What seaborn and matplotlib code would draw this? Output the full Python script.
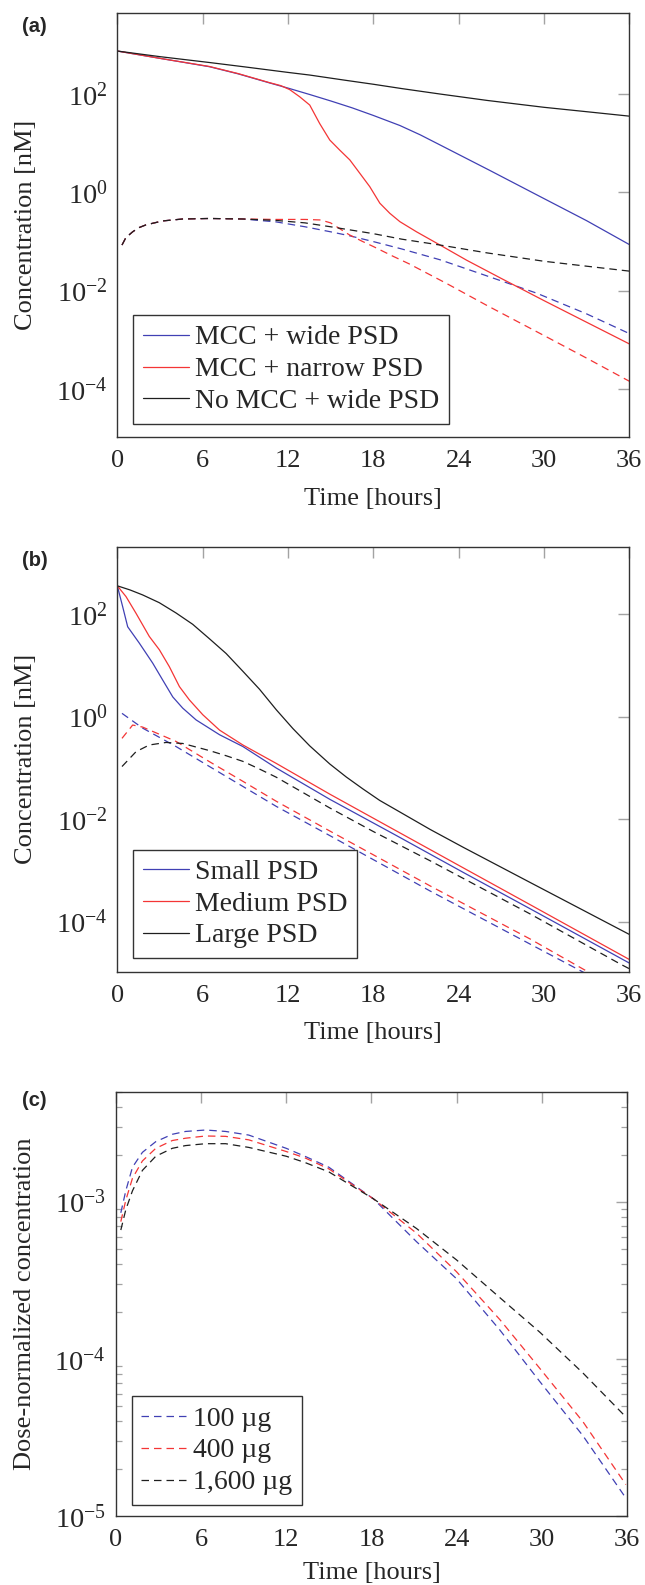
import matplotlib
matplotlib.use("Agg")
import matplotlib.pyplot as plt
import numpy as np
import pandas as pd
import seaborn as sns
from matplotlib.lines import Line2D
from matplotlib.ticker import FixedLocator, NullLocator, LogLocator, NullFormatter, LogFormatterSciNotation

# ---------------- data ----------------
# Panel (a)
a_t_nomcc = [0, 3, 6.48, 9, 12, 13.53, 16, 18, 20, 22.69, 26, 30, 33, 36]
a_nomcc_solid = [748, 575, 437, 355, 275, 243, 191, 158, 129, 100, 74.1, 53.7, 43.7, 35.5]
a_t_wide = [0, 3, 6.48, 8.5, 10.71, 12.12, 13.53, 15, 16.5, 18, 19.87, 21.3, 22.69, 26.2, 29.73, 33, 36]
a_wide_solid = [748, 531, 359, 257, 168, 129, 97.7, 72.4, 52.5, 36.7, 22.9, 14.8, 9.23, 2.79, 0.822,
                0.266, 0.0871]
a_t_narrow = [0, 3, 6.48, 8.5, 10.71, 11.5, 12.12, 12.82, 13.53, 14.23, 14.94, 15.64, 16.35, 17.05,
              17.75, 18.46, 19.16, 19.87, 21.04, 22.69, 24.57, 27, 30, 33, 36]
a_narrow_solid = [748, 531, 363, 260, 170, 148, 123, 88.1, 59.7, 25.1, 11.6, 7.24, 4.57, 2.45, 1.31,
                  0.603, 0.376, 0.254, 0.158, 0.0851, 0.0417, 0.0178, 0.00631, 0.00229, 0.000832]
a_t_wide_dash = [0.33, 0.6, 1.08, 1.5, 2.02, 3.19, 4.6, 6.48, 8.83, 11.18, 13.2, 15, 16.3, 18, 20,
                 22.69, 26, 29.5, 33, 36]
a_wide_dashed = [0.0851, 0.120, 0.158, 0.191, 0.219, 0.263, 0.288, 0.295, 0.288, 0.251, 0.200, 0.158,
                 0.132, 0.100, 0.0708, 0.0427, 0.0200, 0.00891, 0.00339, 0.00135]
a_t_narrow_dash = [0.33, 0.6, 1.08, 1.5, 2.02, 3.19, 4.6, 6.48, 8.83, 11.18, 13.2, 14.3, 15, 16.3,
                   17.2, 18, 19.4, 20.5, 23.15, 26, 30.4, 33, 36]
a_narrow_dashed = [0.0851, 0.120, 0.158, 0.191, 0.219, 0.263, 0.288, 0.295, 0.288, 0.282, 0.282,
                   0.275, 0.240, 0.138, 0.102, 0.0794, 0.0501, 0.0355, 0.0141, 0.00501, 0.00107,
                   0.000427, 0.000145]
a_t_nomcc_dash = [0.33, 0.6, 1.08, 1.5, 2.02, 3.19, 4.6, 6.48, 8.83, 11.18, 13.2, 15, 18, 20, 22.69,
                  26, 30, 33, 36]
a_nomcc_dashed = [0.0851, 0.120, 0.158, 0.191, 0.219, 0.263, 0.288, 0.295, 0.288, 0.269, 0.240,
                  0.200, 0.145, 0.112, 0.0851, 0.0589, 0.0398, 0.0316, 0.0251]
a_labels = ["MCC + wide PSD", "MCC + narrow PSD", "No MCC + wide PSD"]

# Panel (b)
b_t_small = [0, 0.38, 0.73, 1.55, 2.49, 3.19, 3.90, 4.60, 5.54, 7.19, 8.83, 11.18, 14.94, 19.63,
             24.33, 29.03, 36]
b_small_solid = [363, 141, 57.5, 27.5, 11.2, 5.25, 2.45, 1.48, 0.871, 0.447, 0.263, 0.100, 0.0245,
                 0.00479, 0.000912, 0.000178, 0.0000155]
b_t_medium = [0, 0.61, 1.32, 2.25, 2.96, 3.66, 4.37, 5.07, 6.01, 7.19, 8.83, 11.18, 14.94, 19.63,
              24.33, 29.03, 36]
b_medium_solid = [363, 224, 105, 37.2, 20.4, 9.55, 3.89, 2.14, 1.10, 0.550, 0.282, 0.123, 0.0309,
                  0.00589, 0.00112, 0.000214, 0.0000182]
b_t_large = [0, 0.9, 1.78, 2.95, 4.13, 5.3, 6.48, 7.65, 8.83, 10, 11.18, 12.35, 13.53, 14.94, 16.1,
             17.28, 18.45, 19.63, 22, 24.33, 29.03, 36]
b_large_solid = [363, 301, 241, 170, 107, 64.3, 33.5, 17.3, 7.76, 3.46, 1.374, 0.589, 0.271, 0.120,
                 0.0668, 0.0389, 0.0233, 0.0151, 0.00631, 0.00282, 0.000581, 0.0000562]
b_t_small_dash = [0.33, 1.78, 4.13, 6.48, 8.83, 11.18, 14.94, 21.98, 29.03, 32.7, 36]
b_small_dashed = [1.17, 0.603, 0.263, 0.107, 0.0437, 0.0178, 0.00479, 0.000398, 0.0000363,
                  0.0000105, 0.00000339]
b_t_medium_dash = [0.33, 1.08, 1.78, 4.13, 6.48, 8.83, 11.18, 14.94, 21.98, 29.03, 32.9, 36]
b_medium_dashed = [0.380, 0.692, 0.631, 0.331, 0.133, 0.0550, 0.0224, 0.00589, 0.000501,
                   0.0000457, 0.0000112, 0.00000398]
b_t_large_dash = [0.33, 1.32, 2.25, 3.43, 4.6, 6.48, 7.65, 8.83, 10, 11.18, 13, 14.94, 18, 21.98,
                  29.03, 35.37, 36]
b_large_dashed = [0.107, 0.209, 0.282, 0.316, 0.302, 0.219, 0.174, 0.135, 0.0955, 0.0661, 0.0339,
                  0.0166, 0.00575, 0.00155, 0.000141, 0.0000148, 0.0000120]
b_labels = ["Small PSD", "Medium PSD", "Large PSD"]

# Panel (c)
c_t = [0.36, 0.71, 1.18, 1.88, 2.82, 3.98, 4.92, 6.33, 7.73, 9.36, 12, 13.31, 15, 18.12, 21.17,
       23.98, 27.03, 29.84, 32.88, 35.9]
c_100 = [8.51e-4, 1.175e-3, 1.66e-3, 2.065e-3, 2.415e-3, 2.69e-3, 2.805e-3, 2.864e-3, 2.805e-3,
         2.66e-3, 2.19e-3, 1.95e-3, 1.66e-3, 1.047e-3, 5.57e-4, 3.24e-4, 1.528e-4, 7.18e-5, 3.24e-5,
         1.30e-5]
c_400 = [7.48e-4, 1.023e-3, 1.413e-3, 1.82e-3, 2.19e-3, 2.455e-3, 2.54e-3, 2.624e-3, 2.61e-3,
         2.48e-3, 2.09e-3, 1.905e-3, 1.62e-3, 1.047e-3, 6.31e-4, 3.59e-4, 1.78e-4, 8.71e-5, 3.98e-5,
         1.585e-5]
c_1600 = [6.61e-4, 8.91e-4, 1.175e-3, 1.585e-3, 1.95e-3, 2.19e-3, 2.28e-3, 2.344e-3, 2.344e-3,
          2.22e-3, 1.95e-3, 1.78e-3, 1.55e-3, 1.047e-3, 6.76e-4, 4.27e-4, 2.455e-4, 1.48e-4, 8.13e-5,
          4.27e-5]
c_labels = ["100 \u00b5g", "400 \u00b5g", "1,600 \u00b5g"]

x_ticks = [0, 6, 12, 18, 24, 30, 36]

# ---------------- styling ----------------
sns.set_style("white")
plt.rcParams['font.family'] = ['Liberation Serif', 'DejaVu Serif']
plt.rcParams['mathtext.fontset'] = 'stix'
FS = 19
BLUE = '#4040b4'
RED = '#f43535'
BLACK = '#1e1e1e'
DASH = (6, 4)
LW = 0.9

fig = plt.figure(figsize=(6.45, 15.85), dpi=100)
W, H = 645.0, 1585.0
# (left, right, top, bottom) in pixels
boxes = [(117.3, 629.3, 12.7, 437.3), (117.3, 629.3, 547, 971.7), (115.7, 627.3, 1092, 1516)]
axs = []
for l, r, top, bot in boxes:
    ax = fig.add_axes([l / W, 1 - bot / H, (r - l) / W, (bot - top) / H])
    axs.append(ax)


def long_df(curves):
    rows = []
    for name, kind, t, v in curves:
        for ti, vi in zip(t, v):
            rows.append({"time": ti, "conc": vi, "series": name, "kind": kind})
    return pd.DataFrame(rows)


def draw(ax, curves, palette):
    df = long_df(curves)
    sns.lineplot(data=df, x="time", y="conc", hue="series", style="kind", palette=palette,
                 dashes={"solid": "", "dashed": DASH}, estimator=None, sort=False,
                 legend=False, lw=LW, ax=ax)


def style_axis(ax, ylim, ymajor, minor=False, xlabelpad=11):
    ax.set_yscale('log')
    ax.set_xlim(0, 36)
    ax.set_ylim(*ylim)
    ax.xaxis.set_major_locator(FixedLocator(x_ticks))
    ax.xaxis.set_minor_locator(NullLocator())
    ax.yaxis.set_major_locator(FixedLocator(ymajor))
    ax.yaxis.set_major_formatter(LogFormatterSciNotation())
    if minor:
        ax.yaxis.set_minor_locator(LogLocator(base=10, subs=np.arange(2, 10), numticks=20))
        ax.yaxis.set_minor_formatter(NullFormatter())
    else:
        ax.yaxis.set_minor_locator(NullLocator())
    ax.tick_params(which='major', direction='in', top=True, right=True, length=8, width=1.0,
                   color='#a3a3a3')
    ax.tick_params(axis='x', which='major', labelsize=FS, pad=9.5)
    ax.tick_params(axis='y', which='major', labelsize=20.5, pad=7)
    ax.tick_params(which='minor', direction='in', left=True, right=True, length=4.5, width=0.9,
                   color='#a3a3a3')
    for s in ax.spines.values():
        s.set_color('#333333')
        s.set_linewidth(1.0)
    ax.set_xlabel("Time [hours]", fontsize=FS, labelpad=xlabelpad)
    ax.yaxis.set_label_coords(-0.156, 0.5)


def add_legend(ax, labels, colors, dashed, off_px=13.5):
    if dashed:
        handles = [Line2D([], [], color=c, lw=LW, linestyle=(0, DASH)) for c in colors]
    else:
        handles = [Line2D([], [], color=c, lw=LW) for c in colors]
    bb = ax.get_window_extent()
    x0 = 16.0 / bb.width
    y0 = off_px / bb.height
    leg = ax.legend(handles, labels, loc='lower left', bbox_to_anchor=(x0, y0), borderaxespad=0,
                    fontsize=20, frameon=True, fancybox=False, framealpha=1, edgecolor='#333333',
                    handlelength=1.65, handletextpad=0.22, labelspacing=0.23, borderpad=0.35)
    leg.get_frame().set_linewidth(1.0)


# (a)
ax = axs[0]
draw(ax, [
    ("wide", "solid", a_t_wide, a_wide_solid),
    ("narrow", "solid", a_t_narrow, a_narrow_solid),
    ("nomcc", "solid", a_t_nomcc, a_nomcc_solid),
    ("wide", "dashed", a_t_wide_dash, a_wide_dashed),
    ("narrow", "dashed", a_t_narrow_dash, a_narrow_dashed),
    ("nomcc", "dashed", a_t_nomcc_dash, a_nomcc_dashed),
], {"wide": BLUE, "narrow": RED, "nomcc": BLACK})
style_axis(ax, (1.05e-5, 4.5e3), [1e-4, 1e-2, 1, 1e2])
ax.set_ylabel("Concentration [nM]", fontsize=FS)
add_legend(ax, a_labels, [BLUE, RED, BLACK], False)

# (b)
ax = axs[1]
draw(ax, [
    ("small", "solid", b_t_small, b_small_solid),
    ("medium", "solid", b_t_medium, b_medium_solid),
    ("large", "solid", b_t_large, b_large_solid),
    ("small", "dashed", b_t_small_dash, b_small_dashed),
    ("medium", "dashed", b_t_medium_dash, b_medium_dashed),
    ("large", "dashed", b_t_large_dash, b_large_dashed),
], {"small": BLUE, "medium": RED, "large": BLACK})
style_axis(ax, (1.05e-5, 2.08e3), [1e-4, 1e-2, 1, 1e2])
ax.set_ylabel("Concentration [nM]", fontsize=FS)
add_legend(ax, b_labels, [BLUE, RED, BLACK], False)

# (c)
ax = axs[2]
draw(ax, [
    ("100", "dashed", c_t, c_100),
    ("400", "dashed", c_t, c_400),
    ("1600", "dashed", c_t, c_1600),
], {"100": BLUE, "400": RED, "1600": BLACK})
style_axis(ax, (1e-5, 5e-3), [1e-5, 1e-4, 1e-3], minor=True, xlabelpad=7.5)
ax.set_ylabel("Dose-normalized concentration", fontsize=FS)
add_legend(ax, c_labels, [BLUE, RED, BLACK], True, off_px=11)

# panel letters
for lab, ypx in zip(["(a)", "(b)", "(c)"], [27, 560, 1100]):
    fig.text(22 / W, 1 - ypx / H, lab, fontsize=14.5, fontweight='bold',
             family=['Liberation Sans', 'DejaVu Sans'], ha='left', va='center')

fig.savefig("out.png", dpi=100)
